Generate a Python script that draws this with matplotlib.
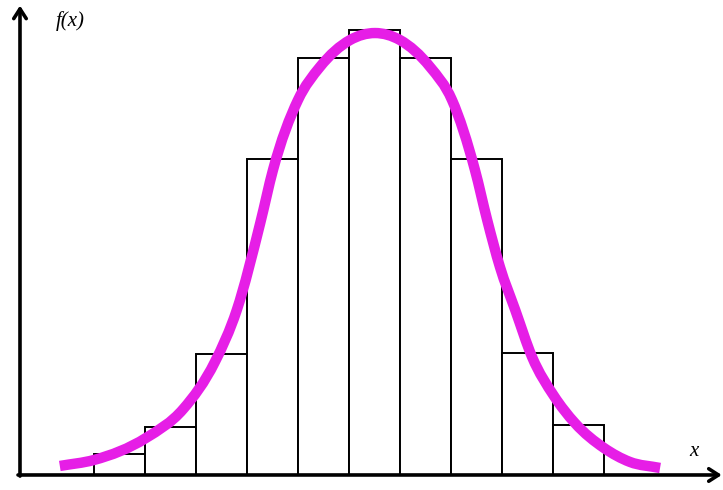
import matplotlib.pyplot as plt
import numpy as np
from matplotlib.patches import PathPatch
from matplotlib.path import Path

# histogram bins (unit width, centred on 0) and bar heights
bin_left_edges = [-5.5, -4.5, -3.5, -2.5, -1.5, -0.5, 0.5, 1.5, 2.5, 3.5]
bar_heights = [0.019, 0.043, 0.109, 0.284, 0.375, 0.400, 0.375, 0.284, 0.110, 0.045]

# density curve
curve_x = [-6.18, -5.51, -4.49, -3.76, -3.14, -2.71, -2.25, -2.00, -1.51, -1.08,
           -0.49, 0.0, 0.49, 1.08, 1.51, 1.96, 2.20, 2.45, 2.75, 3.08,
           3.51, 3.92, 4.49, 5.00, 5.59]
curve_y = [0.0081, 0.0135, 0.0333, 0.0593, 0.1016, 0.1483, 0.2265, 0.2742, 0.3371, 0.3668,
           0.3910, 0.3973, 0.3910, 0.3668, 0.3371, 0.2742, 0.2292, 0.1870, 0.1483, 0.1061,
           0.0710, 0.0467, 0.0243, 0.0117, 0.0063]


def smooth_path(xs, ys):
    """Cubic Hermite through the sampled points (three-point slopes), as Bezier segments."""
    x = np.asarray(xs, float)
    y = np.asarray(ys, float)
    h = np.diff(x)
    d = np.diff(y) / h
    m = np.empty_like(x)
    m[0], m[-1] = d[0], d[-1]
    m[1:-1] = (d[1:] * h[:-1] + d[:-1] * h[1:]) / (h[:-1] + h[1:])
    verts = [(x[0], y[0])]
    codes = [Path.MOVETO]
    for i in range(len(x) - 1):
        verts += [(x[i] + h[i] / 3, y[i] + m[i] * h[i] / 3),
                  (x[i + 1] - h[i] / 3, y[i + 1] - m[i + 1] * h[i] / 3),
                  (x[i + 1], y[i + 1])]
        codes += [Path.CURVE4] * 3
    return Path(verts, codes)


fig = plt.figure(figsize=(7.23, 4.90), dpi=100)
ax = fig.add_axes([0, 0, 1, 1])
ax.set_xlim(-7.353, 6.824)
ax.set_ylim(-0.0135, 0.427)
ax.axis("off")

ax.bar(bin_left_edges, bar_heights, width=1.0, align="edge",
       facecolor="white", edgecolor="black", linewidth=1.4, zorder=1)

curve = PathPatch(smooth_path(curve_x, curve_y), facecolor="none", edgecolor="#e61ee6",
                  linewidth=7.5, capstyle="butt", joinstyle="round", zorder=3)
ax.add_patch(curve)

# axes drawn as arrows
arrow = dict(arrowstyle="->,head_length=0.7,head_width=0.45", lw=2.6,
             color="black", shrinkA=0, shrinkB=0)
ax.annotate("", xy=(6.80, 0.0), xytext=(-7.0, 0.0), arrowprops=arrow, zorder=4)
ax.annotate("", xy=(-6.961, 0.422), xytext=(-6.961, -0.001), arrowprops=arrow, zorder=4)

ax.text(-6.25, 0.408, "f(x)", family="Liberation Serif", style="italic",
        fontsize=15, ha="left", va="center")
ax.text(6.25, 0.021, "x", family="Liberation Serif", style="italic",
        fontsize=15, ha="center", va="center")

fig.savefig("out.png", dpi=100)
